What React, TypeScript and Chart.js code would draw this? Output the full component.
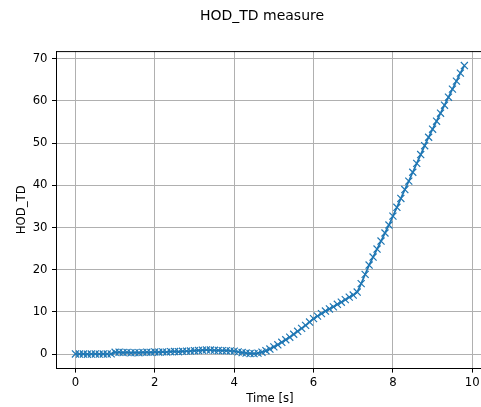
import React, { useEffect, useRef } from "react";
import { Chart, registerables } from "chart.js";

Chart.register(...registerables);

const chartTitle = "HOD_TD measure";
const xAxisLabel = "Time [s]";
const yAxisLabel = "HOD_TD";

const timeValues = [
  0.0, 0.1, 0.2, 0.3, 0.4, 0.5, 0.6, 0.7, 0.8, 0.9,
  1.0, 1.1, 1.2, 1.3, 1.4, 1.5, 1.6, 1.7, 1.8, 1.9,
  2.0, 2.1, 2.2, 2.3, 2.4, 2.5, 2.6, 2.7, 2.8, 2.9,
  3.0, 3.1, 3.2, 3.3, 3.4, 3.5, 3.6, 3.7, 3.8, 3.9,
  4.0, 4.1, 4.2, 4.3, 4.4, 4.5, 4.6, 4.7, 4.8, 4.9,
  5.0, 5.1, 5.2, 5.3, 5.4, 5.5, 5.6, 5.7, 5.8, 5.9,
  6.0, 6.1, 6.2, 6.3, 6.4, 6.5, 6.6, 6.7, 6.8, 6.9,
  7.0, 7.1, 7.2, 7.3, 7.4, 7.5, 7.6, 7.7, 7.8, 7.9,
  8.0, 8.1, 8.2, 8.3, 8.4, 8.5, 8.6, 8.7, 8.8, 8.9,
  9.0, 9.1, 9.2, 9.3, 9.4, 9.5, 9.6, 9.7, 9.8,
];

const hodValues = [
  0.03, 0.0, 0.02, -0.02, 0.0, 0.03, -0.01, 0.02, 0.0, 0.04,
  0.42, 0.45, 0.36, 0.4, 0.3, 0.35, 0.32, 0.4, 0.45, 0.4,
  0.5, 0.45, 0.52, 0.46, 0.56, 0.6, 0.55, 0.66, 0.7, 0.72,
  0.8, 0.86, 0.92, 1.0, 0.95, 0.9, 0.86, 0.82, 0.8, 0.76,
  0.7, 0.52, 0.36, 0.24, 0.14, 0.1, 0.22, 0.45, 0.8, 1.2,
  1.7, 2.2, 2.8, 3.4, 4.0, 4.7, 5.4, 6.1, 6.8, 7.6,
  8.4, 9.0, 9.6, 10.2, 10.7, 11.2, 11.8, 12.3, 12.9, 13.5,
  14.0, 14.7, 16.7, 18.9, 21.1, 23.0, 24.9, 26.8, 28.7, 30.6,
  32.7, 34.8, 36.9, 39.0, 41.0, 43.1, 45.2, 47.3, 49.4, 51.4,
  53.3, 55.2, 57.1, 59.0, 60.9, 62.8, 64.7, 66.6, 68.4,
];

const xTickValues = [0, 2, 4, 6, 8, 10];
const yTickValues = [0, 10, 20, 30, 40, 50, 60, 70];

const FONT = "'DejaVu Sans', sans-serif";
const LINE_COLOR = "#1f77b4";

export default function App() {
  const canvasRef = useRef<HTMLCanvasElement | null>(null);

  useEffect(() => {
    const canvas = canvasRef.current;
    if (!canvas) return;

    const xMinData = Math.min(...timeValues);
    const xMaxData = Math.max(...timeValues);
    const yMinData = Math.min(...hodValues);
    const yMaxData = Math.max(...hodValues);
    const xPad = (xMaxData - xMinData) * 0.05;
    const yPad = (yMaxData - yMinData) * 0.05;

    const points = timeValues.map((t, i) => ({ x: t, y: hodValues[i] }));

    const framePlugin = {
      id: "frameAndTitle",
      afterDatasetsDraw(chart: any) {
        const { ctx, chartArea } = chart;
        ctx.save();
        ctx.strokeStyle = "#000";
        ctx.lineWidth = 1;
        ctx.beginPath();
        ctx.moveTo(chartArea.left, chartArea.top + 0.5);
        ctx.lineTo(chartArea.right, chartArea.top + 0.5);
        ctx.moveTo(chartArea.right - 0.5, chartArea.top);
        ctx.lineTo(chartArea.right - 0.5, chartArea.bottom);
        ctx.stroke();
        ctx.fillStyle = "#000";
        ctx.font = `14px ${FONT}`;
        ctx.textAlign = "center";
        ctx.textBaseline = "alphabetic";
        ctx.fillText(chartTitle, 262, 19.8);
        ctx.restore();
      },
    };

    const chart = new Chart(canvas, {
      type: "line",
      data: {
        datasets: [
          {
            data: points,
            borderColor: LINE_COLOR,
            backgroundColor: LINE_COLOR,
            borderWidth: 1.75,
            pointStyle: "crossRot",
            pointRadius: 5,
            pointHoverRadius: 5,
            pointBorderWidth: 1.2,
            pointBorderColor: LINE_COLOR,
            tension: 0,
            fill: false,
          },
        ],
      },
      options: {
        animation: false,
        responsive: false,
        maintainAspectRatio: false,
        devicePixelRatio: 1,
        layout: { padding: { left: 0, right: 5.5, top: 51.1, bottom: 0 } },
        plugins: {
          legend: { display: false },
          title: { display: false },
          tooltip: { enabled: false },
        },
        scales: {
          x: {
            type: "linear",
            min: xMinData - xPad,
            max: xMaxData + xPad,
            afterBuildTicks: (scale: any) => {
              scale.ticks = xTickValues.map((v) => ({ value: v }));
            },
            afterFit: (scale: any) => {
              scale.height = 38.4;
            },
            ticks: {
              color: "#000",
              font: { family: FONT, size: 11.7 },
              padding: 3.5,
              maxRotation: 0,
              callback: (v: any) => String(v),
            },
            grid: {
              color: "#b0b0b0",
              lineWidth: 1,
              tickColor: "#000",
              tickLength: 4,
              tickWidth: 1,
            },
            border: { display: true, color: "#000", width: 1 },
            title: {
              display: true,
              text: xAxisLabel,
              color: "#000",
              font: { family: FONT, size: 11.7 },
              padding: { top: 0, bottom: 1 },
            },
          },
          y: {
            type: "linear",
            min: yMinData - yPad,
            max: yMaxData + yPad,
            afterBuildTicks: (scale: any) => {
              scale.ticks = yTickValues.map((v) => ({ value: v }));
            },
            afterFit: (scale: any) => {
              scale.width = 56;
            },
            ticks: {
              color: "#000",
              font: { family: FONT, size: 11.7 },
              padding: 4.5,
              callback: (v: any) => String(v),
            },
            grid: {
              color: "#b0b0b0",
              lineWidth: 1,
              tickColor: "#000",
              tickLength: 4,
              tickWidth: 1,
            },
            border: { display: true, color: "#000", width: 1 },
            title: {
              display: true,
              text: yAxisLabel,
              color: "#000",
              font: { family: FONT, size: 11.7 },
              padding: { top: 15, bottom: 0 },
            },
          },
        },
      } as any,
      plugins: [framePlugin],
    });

    return () => {
      chart.destroy();
    };
  }, []);

  return (
    <div
      style={{
        position: "fixed",
        left: 0,
        top: 0,
        width: 481,
        height: 407,
        overflow: "hidden",
        background: "#fff",
      }}
    >
      <canvas
        ref={canvasRef}
        width={490}
        height={407}
        style={{ width: 490, height: 407, display: "block" }}
      />
    </div>
  );
}
